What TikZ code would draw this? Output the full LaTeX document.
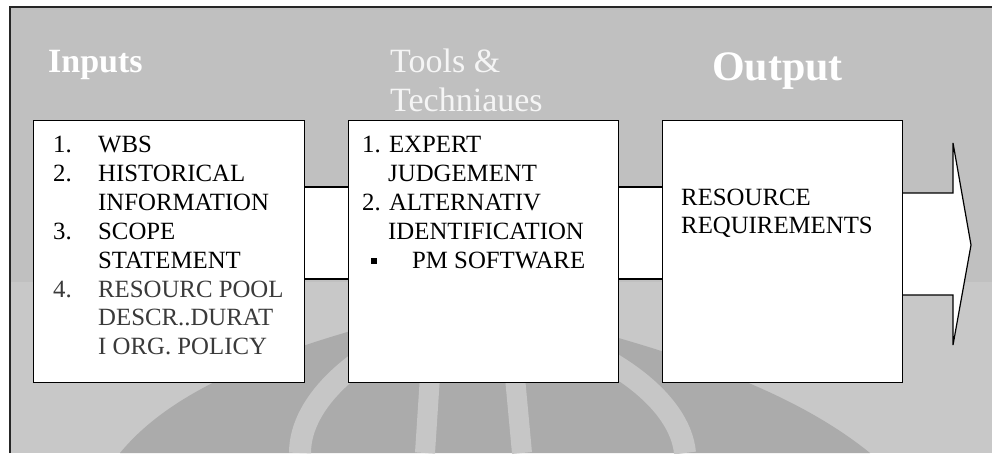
\documentclass[tikz,border=0pt]{standalone}
\usepackage{fontspec}
\setmainfont{Liberation Serif}
\usetikzlibrary{calc}
\definecolor{bgtop}{HTML}{C0C0C0}
\definecolor{bgbot}{HTML}{C8C8C8}
\definecolor{wmdark}{HTML}{ABABAB}
\definecolor{wmlight}{HTML}{C6C6C6}
\definecolor{dimtext}{HTML}{3A3A3A}
\tikzset{
  box/.style={draw=black, line width=1.2pt, fill=white, inner sep=0pt, anchor=north west},
  line/.style={draw=black, line width=1.2pt},
  txt/.style={anchor=base west, inner sep=0pt, font=\fontsize{24.8}{28}\selectfont},
  title/.style={anchor=base west, inner sep=0pt, text=white},
}
\begin{document}
\begin{tikzpicture}[x=1pt,y=-1pt]
\useasboundingbox (0,0) rectangle (992,453);
\fill[white] (0,0) rectangle (992,453);
% background panel
\fill[bgtop] (10,7) rectangle (992,282);
\fill[bgbot] (10,282) rectangle (992,453);
% watermark
\fill[wmdark] (120,453) .. controls (180,380) and (300,340) .. (471,300) .. controls (640,340) and (780,380) .. (870,453) -- cycle;
\draw[wmlight, line width=22pt] (300,453) .. controls (300,400) and (360,350) .. (430,325);
\draw[wmlight, line width=20pt] (425,453) -- (432,345);
\draw[wmlight, line width=20pt] (522,453) -- (512,345);
\draw[wmlight, line width=22pt] (685,453) .. controls (680,400) and (610,350) .. (520,325);
\fill[wmlight] (471,283) -- (390,372) -- (552,372) -- cycle;
% frame
\draw[black!85, line width=1.6pt] (10,453) -- (10,7) -- (992,7);
% titles
\node[title, font=\fontsize{34}{39}\selectfont\bfseries] (tin) at (48,72) {Inputs};
\node[title, text=white!96!black, font=\fontsize{34}{39}\selectfont] (ttools) at (390,72) {Tools \&};
\node[title, text=white!96!black, font=\fontsize{34}{39}\selectfont] (ttech) at (390,111) {Techniaues};
\node[title, font=\fontsize{42}{46}\selectfont\bfseries] (tout) at (712,80) {Output};
% connectors
\coordinate (c1t) at (304,187);
\coordinate (c1b) at (348,279);
\coordinate (c2t) at (618,187);
\coordinate (c2b) at (662,279);
\fill[white] (c1t) rectangle (c1b);
\fill[white] (c2t) rectangle (c2b);
\draw[line] (c1t) -- (c1t -| c1b);
\draw[line] (c1b -| c1t) -- (c1b);
\draw[line] (c2t) -- (c2t -| c2b);
\draw[line] (c2b -| c2t) -- (c2b);
% boxes
\node[box, minimum width=271pt, minimum height=262pt] (b1) at (33,120) {};
\node[box, minimum width=270pt, minimum height=262pt] (b2) at (348,120) {};
\node[box, minimum width=240pt, minimum height=262pt] (b3) at (662,120) {};
% output arrow
\coordinate (a1) at (953,193);
\coordinate (a2) at (953,143);
\coordinate (a3) at (971,245);
\coordinate (a4) at (953,345);
\coordinate (a5) at (953,295);
\filldraw[fill=white, draw=black, line width=1.2pt]
  (b3.east |- a1) -- (a1) -- (a2) -- (a3) -- (a4) -- (a5) -- (b3.east |- a5);
% box 1 text
\node[txt] (n1) at (53,152) {1.};
\node[txt] (l1) at (98,152) {WBS};
\node[txt] (n2) at (53,181) {2.};
\node[txt] (l2) at (98,181) {HISTORICAL};
\node[txt] (l3) at (98,210) {INFORMATION};
\node[txt] (n3) at (53,239) {3.};
\node[txt] (l4) at (98,239) {SCOPE};
\node[txt] (l5) at (98,268) {STATEMENT};
\node[txt, text=dimtext] (n4) at (53,297) {4.};
\node[txt, text=dimtext] (l6) at (98,297) {RESOURC POOL};
\node[txt, text=dimtext] (l7) at (98,325) {DESCR..DURAT};
\node[txt, text=dimtext] (l8) at (98,354) {I ORG. POLICY};
% box 2 text
\node[txt] (m1) at (362,152) {1. EXPERT};
\node[txt] (m2) at (388,181) {JUDGEMENT};
\node[txt] (m3) at (362,210) {2. ALTERNATIV};
\node[txt] (m4) at (388,239) {IDENTIFICATION};
\node[fill=black, minimum size=6pt, inner sep=0pt] (bul) at (374,261) {};
\node[txt] (m5) at (412,268) {PM SOFTWARE};
% box 3 text
\node[txt] (r1) at (681,205) {RESOURCE};
\node[txt] (r2) at (681,233) {REQUIREMENTS};
\end{tikzpicture}
\end{document}
